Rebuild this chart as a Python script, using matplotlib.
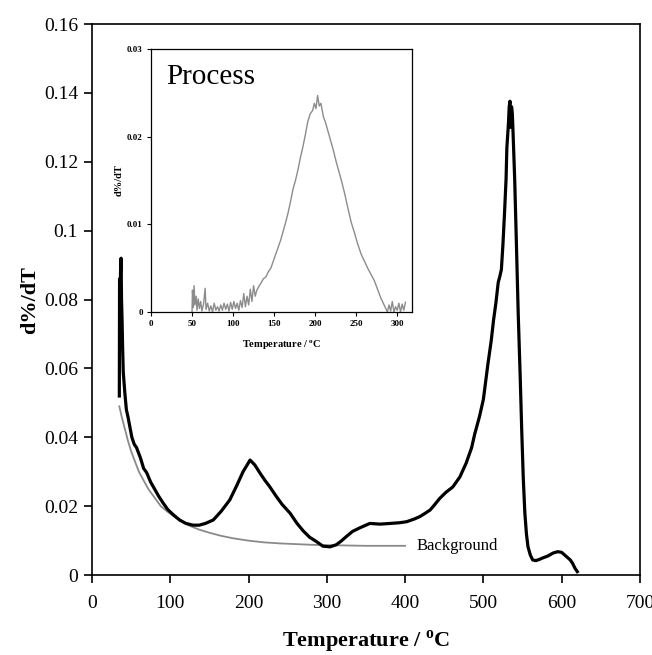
import matplotlib
matplotlib.use("Agg")
import matplotlib.pyplot as plt

plt.rcParams['font.family'] = ['Liberation Serif', 'DejaVu Serif']
plt.rcParams['mathtext.fontset'] = 'custom'
plt.rcParams['mathtext.rm'] = 'Liberation Serif'
plt.rcParams['mathtext.bf'] = 'Liberation Serif:bold'

# main curve
temp = [35, 35.3, 35.8, 36.5, 37.2, 37.8, 38.5, 39.2, 40, 42, 44, 46, 48.5, 51, 54, 57, 62, 66,
        70, 75, 80, 85, 91, 97, 104, 112, 120, 129, 137, 145, 155, 165, 176, 185, 193, 202,
        208, 215, 221, 227, 235, 243, 253, 262, 270, 278, 287, 295, 304, 312, 318, 325, 333,
        342, 355, 368, 381, 393, 402, 412, 419, 426, 432, 438, 444, 452, 461, 470, 478, 485,
        489, 495, 500, 506, 510, 513, 516, 519, 521, 523, 525, 527, 529, 530, 532, 533, 534,
        535, 536, 537, 538, 540, 542, 544.5, 547, 549, 551, 553, 555, 557, 560, 563, 567, 571,
        576, 582, 589, 595, 600, 604, 608, 611, 614, 617, 620]
rate = [0.052, 0.086, 0.075, 0.088, 0.092, 0.080, 0.074, 0.066, 0.059, 0.053, 0.048, 0.046,
        0.043, 0.040, 0.038, 0.037, 0.034, 0.031, 0.0297, 0.027, 0.025, 0.023, 0.0209, 0.019,
        0.0175, 0.016, 0.015, 0.0145, 0.0145, 0.015, 0.016, 0.0185, 0.0218, 0.026, 0.030,
        0.0334, 0.032, 0.0295, 0.0275, 0.0257, 0.023, 0.0205, 0.018, 0.015, 0.0128, 0.011,
        0.0097, 0.0084, 0.0082, 0.0088, 0.0098, 0.0112, 0.0127, 0.0137, 0.015, 0.0148, 0.015,
        0.0152, 0.0155, 0.0163, 0.017, 0.018, 0.0189, 0.0205, 0.0222, 0.024, 0.0256, 0.0285,
        0.0325, 0.037, 0.041, 0.046, 0.051, 0.0616, 0.068, 0.074, 0.079, 0.085, 0.0867, 0.0887,
        0.096, 0.105, 0.115, 0.124, 0.131, 0.136, 0.1376, 0.130, 0.136, 0.134, 0.128, 0.115,
        0.098, 0.076, 0.058, 0.042, 0.028, 0.018, 0.012, 0.0082, 0.0058, 0.0044, 0.0042, 0.0045,
        0.005, 0.0055, 0.0064, 0.0068, 0.0066, 0.0058, 0.005, 0.0044, 0.0034, 0.002, 0.001]

# background curve
bg_temp = [35, 38, 42, 46, 50, 55, 60, 66, 72, 80, 88, 96, 105, 115, 125, 137, 150, 165,
           180, 200, 220, 240, 260, 280, 300, 325, 350, 375, 400]
bg_rate = [0.049, 0.046, 0.0425, 0.039, 0.036, 0.033, 0.030, 0.0275, 0.025, 0.0225, 0.020,
           0.0185, 0.017, 0.0155, 0.0143, 0.0132, 0.0123, 0.0114, 0.0107, 0.010, 0.0095,
           0.0092, 0.0090, 0.0088, 0.0087, 0.0086, 0.0085, 0.0085, 0.0085]

# inset "Process" curve
proc_temp = [50, 50.5, 51.5, 52.5, 53.5, 55, 56, 57.5, 59, 60.5, 62, 64, 66, 67, 69, 71, 73,
             75, 77, 79, 81, 83, 85, 87, 89, 91, 93, 95, 97, 99, 101, 103, 105, 107, 109, 111,
             113, 115, 117, 119, 121, 123, 125, 127, 129, 132, 134, 137, 140, 143, 146, 149,
             152, 155, 158, 161, 164, 167, 170, 173, 176, 179, 182, 185, 188, 191, 194, 197,
             199, 201, 203, 205, 207, 210, 213, 216, 219, 222, 226, 229, 232, 236, 240, 244,
             248, 252, 256, 260, 264, 268, 272, 276, 280, 283, 286, 288, 290, 292, 294, 296,
             298, 300, 302, 304, 306, 308, 310]
proc_rate = [0.0, 0.0025, 0.0005, 0.0030, 0.0008, 0.0018, 0.0002, 0.0015, 0.0004, 0.0012,
             0.0001, 0.0009, 0.0027, 0.0003, 0.0010, 0.0001, 0.0007, 0.0, 0.0010, 0.0002,
             0.0006, 0.0001, 0.0008, 0.0002, 0.0010, 0.0003, 0.0009, 0.0001, 0.0011, 0.0003,
             0.0012, 0.0004, 0.0010, 0.0002, 0.0013, 0.0005, 0.0021, 0.0006, 0.0018, 0.0008,
             0.0026, 0.0012, 0.0030, 0.0018, 0.0025, 0.0030, 0.0033, 0.0038, 0.0040, 0.0046,
             0.0050, 0.0058, 0.0066, 0.0074, 0.0082, 0.0092, 0.0102, 0.0113, 0.0126, 0.0140,
             0.0150, 0.0162, 0.0176, 0.0188, 0.0202, 0.0217, 0.0226, 0.0230, 0.0238, 0.0232,
             0.0247, 0.0235, 0.0238, 0.0223, 0.0215, 0.0205, 0.0195, 0.0185, 0.0170, 0.0160,
             0.0150, 0.0135, 0.0118, 0.0102, 0.0090, 0.0077, 0.0066, 0.0058, 0.0050, 0.0043,
             0.0036, 0.0026, 0.0016, 0.0010, 0.0004, 0.0, 0.0008, 0.0001, 0.0012, 0.0, 0.0006,
             0.0002, 0.0010, 0.0, 0.0009, 0.0002, 0.0011]

main_xticks = [0, 100, 200, 300, 400, 500, 600, 700]
main_yticks = [0, 0.02, 0.04, 0.06, 0.08, 0.1, 0.12, 0.14, 0.16]
main_ylabels = ['0', '0.02', '0.04', '0.06', '0.08', '0.1', '0.12', '0.14', '0.16']
inset_xticks = [0, 50, 100, 150, 200, 250, 300]
inset_yticks = [0, 0.01, 0.02, 0.03]
inset_ylabels = ['0', '0.01', '0.02', '0.03']

fig = plt.figure(figsize=(6.52, 6.55), dpi=100)
ax = fig.add_axes([0.141, 0.122, 0.8405, 0.8413])

ax.plot(bg_temp, bg_rate, color='#8a8a8a', lw=1.3)
ax.plot(temp, rate, color='black', lw=2.3)
ax.text(415, 0.0084, 'Background', fontsize=12, ha='left', va='center')

ax.set_xlim(0, 700)
ax.set_ylim(0, 0.16)
ax.set_xticks(main_xticks)
ax.set_yticks(main_yticks)
ax.set_yticklabels(main_ylabels)
ax.tick_params(direction='out', length=6, width=1.2, labelsize=14, pad=4)
ax.tick_params(axis='x', pad=8)
for s in ax.spines.values():
    s.set_linewidth(1.2)
ax.set_xlabel(r'Temperature / $^{\mathbf{o}}$C', fontsize=16, fontweight='bold')
ax.xaxis.set_label_coords(0.5, -0.097)
ax.set_ylabel('d%/dT', fontsize=16, fontweight='bold')
ax.yaxis.set_label_coords(-0.095, 0.5)

# inset
axi = fig.add_axes([0.2316, 0.5237, 0.4003, 0.4015])
axi.plot(proc_temp, proc_rate, color='#8c8c8c', lw=1.0)
axi.text(18, 0.026, 'Process', fontsize=21, ha='left', va='baseline')
axi.set_xlim(0, 318)
axi.set_ylim(0, 0.03)
axi.set_xticks(inset_xticks)
axi.set_yticks(inset_yticks)
axi.set_yticklabels(inset_ylabels)
axi.tick_params(direction='out', length=3, width=0.8, labelsize=6.5, pad=3)
for lbl in axi.get_xticklabels() + axi.get_yticklabels():
    lbl.set_fontweight('bold')
for s in axi.spines.values():
    s.set_linewidth(0.9)
axi.set_xlabel(r'Temperature / $^{\mathbf{o}}$C', fontsize=7.5, fontweight='bold')
axi.xaxis.set_label_coords(0.5, -0.1)
axi.set_ylabel('d%/dT', fontsize=7.5, fontweight='bold')
axi.yaxis.set_label_coords(-0.105, 0.5)

fig.savefig('out.png', dpi=100)
